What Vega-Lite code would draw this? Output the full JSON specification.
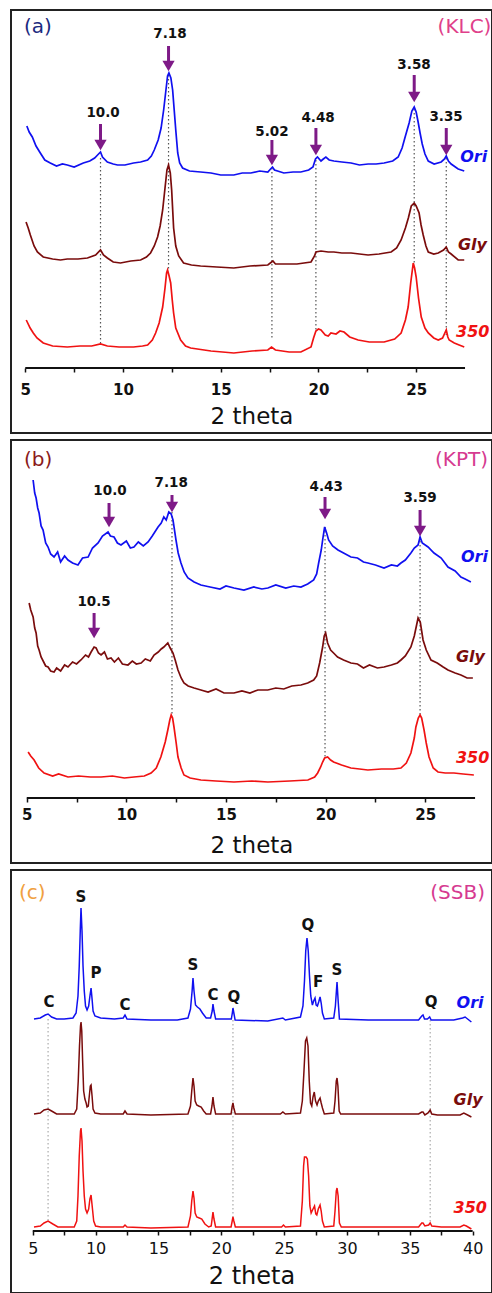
{
"$schema": "https://vega.github.io/schema/vega-lite/v6.json",
"padding": {"left": 10, "top": 9, "right": 1, "bottom": 0},
"spacing": 5,
"background": "white",
"config": {"view": {"stroke": "#222", "strokeWidth": 2}, "font": "DejaVu Sans"},
"datasets": {
"a": [
{"s":"Ori","t":5.08,"v":242},{"s":"Ori","t":5.2,"v":236},{"s":"Ori","t":5.36,"v":231},{"s":"Ori","t":5.55,"v":222},{"s":"Ori","t":5.77,"v":215},{"s":"Ori","t":6.0,"v":208},{"s":"Ori","t":6.28,"v":205},{"s":"Ori","t":6.6,"v":202},{"s":"Ori","t":6.9,"v":204},{"s":"Ori","t":7.15,"v":203},{"s":"Ori","t":7.5,"v":201},{"s":"Ori","t":7.97,"v":205},{"s":"Ori","t":8.3,"v":207},{"s":"Ori","t":8.55,"v":210},{"s":"Ori","t":8.7,"v":213},{"s":"Ori","t":8.85,"v":216},{"s":"Ori","t":8.95,"v":211},{"s":"Ori","t":9.2,"v":206},{"s":"Ori","t":9.5,"v":204},{"s":"Ori","t":9.72,"v":203},{"s":"Ori","t":10.1,"v":203},{"s":"Ori","t":10.54,"v":205},{"s":"Ori","t":10.9,"v":206},{"s":"Ori","t":11.26,"v":208},{"s":"Ori","t":11.45,"v":212},{"s":"Ori","t":11.6,"v":218},{"s":"Ori","t":11.8,"v":228},{"s":"Ori","t":11.95,"v":240},{"s":"Ori","t":12.08,"v":258},{"s":"Ori","t":12.18,"v":275},{"s":"Ori","t":12.28,"v":292},{"s":"Ori","t":12.35,"v":295},{"s":"Ori","t":12.45,"v":290},{"s":"Ori","t":12.54,"v":278},{"s":"Ori","t":12.62,"v":258},{"s":"Ori","t":12.7,"v":238},{"s":"Ori","t":12.8,"v":215},{"s":"Ori","t":12.9,"v":205},{"s":"Ori","t":13.05,"v":200},{"s":"Ori","t":13.4,"v":197},{"s":"Ori","t":13.97,"v":196},{"s":"Ori","t":14.5,"v":195},{"s":"Ori","t":15.0,"v":193},{"s":"Ori","t":15.67,"v":193},{"s":"Ori","t":16.1,"v":195},{"s":"Ori","t":16.54,"v":195},{"s":"Ori","t":17.0,"v":197},{"s":"Ori","t":17.41,"v":196},{"s":"Ori","t":17.55,"v":199},{"s":"Ori","t":17.65,"v":201},{"s":"Ori","t":17.75,"v":198},{"s":"Ori","t":18.23,"v":195},{"s":"Ori","t":18.7,"v":196},{"s":"Ori","t":19.1,"v":196},{"s":"Ori","t":19.5,"v":198},{"s":"Ori","t":19.72,"v":201},{"s":"Ori","t":19.85,"v":209},{"s":"Ori","t":19.95,"v":211},{"s":"Ori","t":20.13,"v":207},{"s":"Ori","t":20.25,"v":209},{"s":"Ori","t":20.38,"v":211},{"s":"Ori","t":20.55,"v":208},{"s":"Ori","t":20.79,"v":207},{"s":"Ori","t":21.2,"v":206},{"s":"Ori","t":21.67,"v":205},{"s":"Ori","t":22.1,"v":203},{"s":"Ori","t":22.54,"v":204},{"s":"Ori","t":22.95,"v":204},{"s":"Ori","t":23.36,"v":205},{"s":"Ori","t":23.8,"v":207},{"s":"Ori","t":24.08,"v":211},{"s":"Ori","t":24.28,"v":220},{"s":"Ori","t":24.45,"v":232},{"s":"Ori","t":24.64,"v":245},{"s":"Ori","t":24.78,"v":257},{"s":"Ori","t":24.9,"v":261},{"s":"Ori","t":25.0,"v":256},{"s":"Ori","t":25.1,"v":246},{"s":"Ori","t":25.2,"v":235},{"s":"Ori","t":25.31,"v":224},{"s":"Ori","t":25.45,"v":214},{"s":"Ori","t":25.62,"v":207},{"s":"Ori","t":25.92,"v":204},{"s":"Ori","t":26.28,"v":206},{"s":"Ori","t":26.45,"v":209},{"s":"Ori","t":26.54,"v":212},{"s":"Ori","t":26.65,"v":207},{"s":"Ori","t":26.79,"v":204},{"s":"Ori","t":27.15,"v":199},{"s":"Ori","t":27.46,"v":197},
{"s":"Gly","t":5.04,"v":146},{"s":"Gly","t":5.15,"v":140},{"s":"Gly","t":5.26,"v":133},{"s":"Gly","t":5.45,"v":122},{"s":"Gly","t":5.62,"v":116},{"s":"Gly","t":5.92,"v":111},{"s":"Gly","t":6.4,"v":109},{"s":"Gly","t":6.8,"v":108},{"s":"Gly","t":7.15,"v":109},{"s":"Gly","t":7.7,"v":109},{"s":"Gly","t":8.18,"v":110},{"s":"Gly","t":8.6,"v":113},{"s":"Gly","t":8.85,"v":118},{"s":"Gly","t":9.0,"v":113},{"s":"Gly","t":9.2,"v":110},{"s":"Gly","t":9.5,"v":106},{"s":"Gly","t":9.87,"v":105},{"s":"Gly","t":10.4,"v":107},{"s":"Gly","t":10.9,"v":108},{"s":"Gly","t":11.2,"v":111},{"s":"Gly","t":11.41,"v":115},{"s":"Gly","t":11.6,"v":122},{"s":"Gly","t":11.77,"v":131},{"s":"Gly","t":11.9,"v":142},{"s":"Gly","t":12.03,"v":158},{"s":"Gly","t":12.15,"v":180},{"s":"Gly","t":12.25,"v":198},{"s":"Gly","t":12.33,"v":203},{"s":"Gly","t":12.42,"v":195},{"s":"Gly","t":12.49,"v":178},{"s":"Gly","t":12.59,"v":140},{"s":"Gly","t":12.7,"v":122},{"s":"Gly","t":12.85,"v":112},{"s":"Gly","t":13.1,"v":105},{"s":"Gly","t":13.5,"v":103},{"s":"Gly","t":13.97,"v":102},{"s":"Gly","t":14.8,"v":101},{"s":"Gly","t":15.67,"v":100},{"s":"Gly","t":16.5,"v":102},{"s":"Gly","t":17.41,"v":103},{"s":"Gly","t":17.67,"v":107},{"s":"Gly","t":17.8,"v":104},{"s":"Gly","t":18.23,"v":104},{"s":"Gly","t":18.9,"v":104},{"s":"Gly","t":19.62,"v":106},{"s":"Gly","t":19.8,"v":112},{"s":"Gly","t":19.87,"v":116},{"s":"Gly","t":20.13,"v":117},{"s":"Gly","t":20.5,"v":116},{"s":"Gly","t":20.79,"v":116},{"s":"Gly","t":21.2,"v":115},{"s":"Gly","t":21.67,"v":115},{"s":"Gly","t":22.1,"v":114},{"s":"Gly","t":22.54,"v":113},{"s":"Gly","t":23.1,"v":114},{"s":"Gly","t":23.72,"v":116},{"s":"Gly","t":24.0,"v":120},{"s":"Gly","t":24.23,"v":128},{"s":"Gly","t":24.45,"v":140},{"s":"Gly","t":24.6,"v":150},{"s":"Gly","t":24.75,"v":162},{"s":"Gly","t":24.9,"v":165},{"s":"Gly","t":25.0,"v":162},{"s":"Gly","t":25.15,"v":155},{"s":"Gly","t":25.25,"v":143},{"s":"Gly","t":25.36,"v":133},{"s":"Gly","t":25.5,"v":122},{"s":"Gly","t":25.62,"v":116},{"s":"Gly","t":25.9,"v":114},{"s":"Gly","t":26.13,"v":115},{"s":"Gly","t":26.4,"v":118},{"s":"Gly","t":26.54,"v":121},{"s":"Gly","t":26.65,"v":116},{"s":"Gly","t":26.79,"v":114},{"s":"Gly","t":27.15,"v":108},{"s":"Gly","t":27.46,"v":108},
{"s":"350","t":5.05,"v":48},{"s":"350","t":5.1,"v":46},{"s":"350","t":5.25,"v":40},{"s":"350","t":5.41,"v":35},{"s":"350","t":5.6,"v":30},{"s":"350","t":5.92,"v":25},{"s":"350","t":6.4,"v":22},{"s":"350","t":7.15,"v":21},{"s":"350","t":7.8,"v":22},{"s":"350","t":8.4,"v":22},{"s":"350","t":8.85,"v":24},{"s":"350","t":9.2,"v":22},{"s":"350","t":9.8,"v":21},{"s":"350","t":10.54,"v":21},{"s":"350","t":11.0,"v":22},{"s":"350","t":11.26,"v":23},{"s":"350","t":11.5,"v":28},{"s":"350","t":11.67,"v":35},{"s":"350","t":11.85,"v":45},{"s":"350","t":12.03,"v":61},{"s":"350","t":12.15,"v":80},{"s":"350","t":12.23,"v":95},{"s":"350","t":12.28,"v":98},{"s":"350","t":12.36,"v":92},{"s":"350","t":12.44,"v":85},{"s":"350","t":12.52,"v":68},{"s":"350","t":12.59,"v":55},{"s":"350","t":12.7,"v":40},{"s":"350","t":12.95,"v":28},{"s":"350","t":13.2,"v":22},{"s":"350","t":13.46,"v":20},{"s":"350","t":14.5,"v":17},{"s":"350","t":15.67,"v":15},{"s":"350","t":16.6,"v":17},{"s":"350","t":17.41,"v":18},{"s":"350","t":17.6,"v":21},{"s":"350","t":17.8,"v":18},{"s":"350","t":18.5,"v":16},{"s":"350","t":19.1,"v":16},{"s":"350","t":19.62,"v":21},{"s":"350","t":19.75,"v":30},{"s":"350","t":19.87,"v":37},{"s":"350","t":20.0,"v":39},{"s":"350","t":20.13,"v":38},{"s":"350","t":20.35,"v":33},{"s":"350","t":20.5,"v":32},{"s":"350","t":20.64,"v":35},{"s":"350","t":20.9,"v":34},{"s":"350","t":21.1,"v":37},{"s":"350","t":21.31,"v":36},{"s":"350","t":21.6,"v":31},{"s":"350","t":22.03,"v":28},{"s":"350","t":22.6,"v":26},{"s":"350","t":23.36,"v":26},{"s":"350","t":23.9,"v":29},{"s":"350","t":24.23,"v":35},{"s":"350","t":24.45,"v":48},{"s":"350","t":24.59,"v":61},{"s":"350","t":24.72,"v":85},{"s":"350","t":24.85,"v":105},{"s":"350","t":24.92,"v":100},{"s":"350","t":25.0,"v":91},{"s":"350","t":25.12,"v":70},{"s":"350","t":25.26,"v":51},{"s":"350","t":25.45,"v":40},{"s":"350","t":25.62,"v":35},{"s":"350","t":25.9,"v":30},{"s":"350","t":26.13,"v":28},{"s":"350","t":26.35,"v":30},{"s":"350","t":26.54,"v":38},{"s":"350","t":26.62,"v":31},{"s":"350","t":26.69,"v":28},{"s":"350","t":26.95,"v":25},{"s":"350","t":27.2,"v":23},{"s":"350","t":27.46,"v":21}
],
"b": [
{"s":"Ori","t":5.32,"v":318},{"s":"Ori","t":5.4,"v":305},{"s":"Ori","t":5.47,"v":300},{"s":"Ori","t":5.55,"v":290},{"s":"Ori","t":5.62,"v":285},{"s":"Ori","t":5.72,"v":272},{"s":"Ori","t":5.82,"v":268},{"s":"Ori","t":5.95,"v":255},{"s":"Ori","t":6.07,"v":251},{"s":"Ori","t":6.2,"v":244},{"s":"Ori","t":6.37,"v":241},{"s":"Ori","t":6.55,"v":246},{"s":"Ori","t":6.7,"v":236},{"s":"Ori","t":6.9,"v":242},{"s":"Ori","t":7.07,"v":238},{"s":"Ori","t":7.3,"v":235},{"s":"Ori","t":7.57,"v":233},{"s":"Ori","t":7.8,"v":240},{"s":"Ori","t":8.08,"v":241},{"s":"Ori","t":8.3,"v":250},{"s":"Ori","t":8.58,"v":255},{"s":"Ori","t":8.8,"v":262},{"s":"Ori","t":9.08,"v":266},{"s":"Ori","t":9.2,"v":262},{"s":"Ori","t":9.38,"v":261},{"s":"Ori","t":9.55,"v":255},{"s":"Ori","t":9.73,"v":253},{"s":"Ori","t":10.0,"v":257},{"s":"Ori","t":10.2,"v":250},{"s":"Ori","t":10.38,"v":251},{"s":"Ori","t":10.6,"v":256},{"s":"Ori","t":10.85,"v":252},{"s":"Ori","t":11.09,"v":256},{"s":"Ori","t":11.3,"v":262},{"s":"Ori","t":11.59,"v":271},{"s":"Ori","t":11.75,"v":275},{"s":"Ori","t":11.88,"v":281},{"s":"Ori","t":12.0,"v":278},{"s":"Ori","t":12.13,"v":286},{"s":"Ori","t":12.25,"v":284},{"s":"Ori","t":12.34,"v":278},{"s":"Ori","t":12.49,"v":258},{"s":"Ori","t":12.6,"v":245},{"s":"Ori","t":12.74,"v":235},{"s":"Ori","t":12.9,"v":226},{"s":"Ori","t":13.09,"v":220},{"s":"Ori","t":13.4,"v":216},{"s":"Ori","t":13.74,"v":213},{"s":"Ori","t":14.2,"v":211},{"s":"Ori","t":14.7,"v":209},{"s":"Ori","t":15.0,"v":212},{"s":"Ori","t":15.4,"v":210},{"s":"Ori","t":15.9,"v":208},{"s":"Ori","t":16.4,"v":211},{"s":"Ori","t":16.8,"v":209},{"s":"Ori","t":17.1,"v":210},{"s":"Ori","t":17.5,"v":213},{"s":"Ori","t":18.0,"v":210},{"s":"Ori","t":18.4,"v":212},{"s":"Ori","t":18.76,"v":211},{"s":"Ori","t":19.1,"v":214},{"s":"Ori","t":19.4,"v":218},{"s":"Ori","t":19.55,"v":224},{"s":"Ori","t":19.65,"v":235},{"s":"Ori","t":19.78,"v":248},{"s":"Ori","t":19.85,"v":258},{"s":"Ori","t":19.95,"v":271},{"s":"Ori","t":20.05,"v":265},{"s":"Ori","t":20.15,"v":258},{"s":"Ori","t":20.35,"v":252},{"s":"Ori","t":20.62,"v":248},{"s":"Ori","t":20.9,"v":245},{"s":"Ori","t":21.27,"v":241},{"s":"Ori","t":21.6,"v":240},{"s":"Ori","t":21.9,"v":236},{"s":"Ori","t":22.12,"v":235},{"s":"Ori","t":22.5,"v":233},{"s":"Ori","t":22.93,"v":230},{"s":"Ori","t":23.3,"v":233},{"s":"Ori","t":23.6,"v":232},{"s":"Ori","t":23.78,"v":235},{"s":"Ori","t":24.0,"v":238},{"s":"Ori","t":24.28,"v":245},{"s":"Ori","t":24.45,"v":250},{"s":"Ori","t":24.64,"v":253},{"s":"Ori","t":24.74,"v":261},{"s":"Ori","t":24.85,"v":255},{"s":"Ori","t":25.14,"v":251},{"s":"Ori","t":25.44,"v":245},{"s":"Ori","t":25.8,"v":240},{"s":"Ori","t":26.14,"v":231},{"s":"Ori","t":26.5,"v":227},{"s":"Ori","t":26.79,"v":221},{"s":"Ori","t":27.0,"v":219},{"s":"Ori","t":27.29,"v":216},
{"s":"Gly","t":5.12,"v":195},{"s":"Gly","t":5.2,"v":188},{"s":"Gly","t":5.32,"v":181},{"s":"Gly","t":5.4,"v":170},{"s":"Gly","t":5.47,"v":165},{"s":"Gly","t":5.55,"v":152},{"s":"Gly","t":5.62,"v":148},{"s":"Gly","t":5.72,"v":141},{"s":"Gly","t":5.85,"v":136},{"s":"Gly","t":5.95,"v":132},{"s":"Gly","t":6.07,"v":131},{"s":"Gly","t":6.2,"v":127},{"s":"Gly","t":6.37,"v":126},{"s":"Gly","t":6.5,"v":130},{"s":"Gly","t":6.7,"v":127},{"s":"Gly","t":6.9,"v":133},{"s":"Gly","t":7.07,"v":131},{"s":"Gly","t":7.3,"v":136},{"s":"Gly","t":7.5,"v":134},{"s":"Gly","t":7.72,"v":138},{"s":"Gly","t":7.95,"v":143},{"s":"Gly","t":8.1,"v":141},{"s":"Gly","t":8.23,"v":146},{"s":"Gly","t":8.38,"v":151},{"s":"Gly","t":8.48,"v":150},{"s":"Gly","t":8.6,"v":145},{"s":"Gly","t":8.73,"v":143},{"s":"Gly","t":8.9,"v":146},{"s":"Gly","t":9.05,"v":139},{"s":"Gly","t":9.23,"v":140},{"s":"Gly","t":9.4,"v":136},{"s":"Gly","t":9.6,"v":140},{"s":"Gly","t":9.8,"v":134},{"s":"Gly","t":10.08,"v":133},{"s":"Gly","t":10.3,"v":137},{"s":"Gly","t":10.5,"v":134},{"s":"Gly","t":10.74,"v":135},{"s":"Gly","t":10.95,"v":139},{"s":"Gly","t":11.2,"v":137},{"s":"Gly","t":11.39,"v":143},{"s":"Gly","t":11.6,"v":146},{"s":"Gly","t":11.75,"v":149},{"s":"Gly","t":11.88,"v":151},{"s":"Gly","t":12.08,"v":155},{"s":"Gly","t":12.2,"v":150},{"s":"Gly","t":12.34,"v":145},{"s":"Gly","t":12.45,"v":138},{"s":"Gly","t":12.59,"v":128},{"s":"Gly","t":12.75,"v":120},{"s":"Gly","t":12.89,"v":115},{"s":"Gly","t":13.1,"v":112},{"s":"Gly","t":13.4,"v":110},{"s":"Gly","t":13.74,"v":108},{"s":"Gly","t":14.1,"v":106},{"s":"Gly","t":14.5,"v":109},{"s":"Gly","t":14.9,"v":105},{"s":"Gly","t":15.4,"v":105},{"s":"Gly","t":15.8,"v":107},{"s":"Gly","t":16.2,"v":105},{"s":"Gly","t":16.6,"v":108},{"s":"Gly","t":17.1,"v":108},{"s":"Gly","t":17.5,"v":110},{"s":"Gly","t":17.9,"v":109},{"s":"Gly","t":18.3,"v":112},{"s":"Gly","t":18.76,"v":113},{"s":"Gly","t":19.1,"v":115},{"s":"Gly","t":19.4,"v":118},{"s":"Gly","t":19.55,"v":122},{"s":"Gly","t":19.7,"v":135},{"s":"Gly","t":19.85,"v":151},{"s":"Gly","t":19.93,"v":162},{"s":"Gly","t":20.0,"v":165},{"s":"Gly","t":20.1,"v":155},{"s":"Gly","t":20.25,"v":148},{"s":"Gly","t":20.4,"v":145},{"s":"Gly","t":20.6,"v":141},{"s":"Gly","t":20.9,"v":138},{"s":"Gly","t":21.27,"v":135},{"s":"Gly","t":21.6,"v":134},{"s":"Gly","t":21.9,"v":130},{"s":"Gly","t":22.2,"v":133},{"s":"Gly","t":22.6,"v":130},{"s":"Gly","t":22.93,"v":131},{"s":"Gly","t":23.3,"v":133},{"s":"Gly","t":23.6,"v":135},{"s":"Gly","t":23.78,"v":138},{"s":"Gly","t":24.0,"v":142},{"s":"Gly","t":24.28,"v":151},{"s":"Gly","t":24.45,"v":162},{"s":"Gly","t":24.64,"v":180},{"s":"Gly","t":24.75,"v":176},{"s":"Gly","t":24.89,"v":158},{"s":"Gly","t":25.05,"v":148},{"s":"Gly","t":25.29,"v":138},{"s":"Gly","t":25.6,"v":135},{"s":"Gly","t":25.9,"v":131},{"s":"Gly","t":26.14,"v":128},{"s":"Gly","t":26.5,"v":125},{"s":"Gly","t":26.79,"v":123},{"s":"Gly","t":27.1,"v":120},{"s":"Gly","t":27.39,"v":120},
{"s":"350","t":5.07,"v":46},{"s":"350","t":5.2,"v":42},{"s":"350","t":5.37,"v":38},{"s":"350","t":5.6,"v":30},{"s":"350","t":5.87,"v":25},{"s":"350","t":6.3,"v":22},{"s":"350","t":6.6,"v":24},{"s":"350","t":7.07,"v":21},{"s":"350","t":7.6,"v":22},{"s":"350","t":8.2,"v":21},{"s":"350","t":8.73,"v":21},{"s":"350","t":9.3,"v":22},{"s":"350","t":9.9,"v":20},{"s":"350","t":10.38,"v":21},{"s":"350","t":10.9,"v":22},{"s":"350","t":11.24,"v":25},{"s":"350","t":11.5,"v":30},{"s":"350","t":11.73,"v":41},{"s":"350","t":11.95,"v":56},{"s":"350","t":12.08,"v":68},{"s":"350","t":12.18,"v":78},{"s":"350","t":12.25,"v":83},{"s":"350","t":12.32,"v":80},{"s":"350","t":12.39,"v":71},{"s":"350","t":12.5,"v":55},{"s":"350","t":12.59,"v":41},{"s":"350","t":12.75,"v":30},{"s":"350","t":12.89,"v":23},{"s":"350","t":13.2,"v":20},{"s":"350","t":13.74,"v":18},{"s":"350","t":14.5,"v":17},{"s":"350","t":15.4,"v":16},{"s":"350","t":16.3,"v":17},{"s":"350","t":17.1,"v":16},{"s":"350","t":18.2,"v":17},{"s":"350","t":19.11,"v":18},{"s":"350","t":19.45,"v":21},{"s":"350","t":19.6,"v":25},{"s":"350","t":19.75,"v":31},{"s":"350","t":19.85,"v":36},{"s":"350","t":19.95,"v":40},{"s":"350","t":20.1,"v":41},{"s":"350","t":20.25,"v":38},{"s":"350","t":20.4,"v":36},{"s":"350","t":20.8,"v":33},{"s":"350","t":21.27,"v":30},{"s":"350","t":21.7,"v":29},{"s":"350","t":22.12,"v":28},{"s":"350","t":22.8,"v":29},{"s":"350","t":23.4,"v":29},{"s":"350","t":23.78,"v":30},{"s":"350","t":24.05,"v":35},{"s":"350","t":24.28,"v":45},{"s":"350","t":24.45,"v":60},{"s":"350","t":24.53,"v":71},{"s":"350","t":24.65,"v":80},{"s":"350","t":24.74,"v":83},{"s":"350","t":24.82,"v":80},{"s":"350","t":24.94,"v":68},{"s":"350","t":25.05,"v":55},{"s":"350","t":25.19,"v":41},{"s":"350","t":25.4,"v":30},{"s":"350","t":25.64,"v":26},{"s":"350","t":26.0,"v":25},{"s":"350","t":26.44,"v":25},{"s":"350","t":26.9,"v":24},{"s":"350","t":27.44,"v":23}
],
"c": [
{"s":"Ori","t":5.1,"v":212},{"s":"Ori","t":5.6,"v":213},{"s":"Ori","t":6.0,"v":216},{"s":"Ori","t":6.22,"v":217},{"s":"Ori","t":6.5,"v":214},{"s":"Ori","t":6.9,"v":212},{"s":"Ori","t":7.5,"v":212},{"s":"Ori","t":8.2,"v":213},{"s":"Ori","t":8.45,"v":218},{"s":"Ori","t":8.6,"v":235},{"s":"Ori","t":8.7,"v":265},{"s":"Ori","t":8.78,"v":300},{"s":"Ori","t":8.84,"v":323},{"s":"Ori","t":8.92,"v":300},{"s":"Ori","t":9.0,"v":265},{"s":"Ori","t":9.1,"v":240},{"s":"Ori","t":9.2,"v":225},{"s":"Ori","t":9.32,"v":221},{"s":"Ori","t":9.45,"v":225},{"s":"Ori","t":9.55,"v":235},{"s":"Ori","t":9.64,"v":243},{"s":"Ori","t":9.72,"v":232},{"s":"Ori","t":9.8,"v":220},{"s":"Ori","t":9.95,"v":215},{"s":"Ori","t":10.4,"v":213},{"s":"Ori","t":11.5,"v":212},{"s":"Ori","t":12.2,"v":213},{"s":"Ori","t":12.34,"v":216},{"s":"Ori","t":12.5,"v":212},{"s":"Ori","t":14.4,"v":211},{"s":"Ori","t":16.5,"v":211},{"s":"Ori","t":17.35,"v":213},{"s":"Ori","t":17.55,"v":222},{"s":"Ori","t":17.68,"v":240},{"s":"Ori","t":17.75,"v":253},{"s":"Ori","t":17.83,"v":240},{"s":"Ori","t":17.95,"v":226},{"s":"Ori","t":18.1,"v":224},{"s":"Ori","t":18.3,"v":222},{"s":"Ori","t":18.5,"v":218},{"s":"Ori","t":18.8,"v":213},{"s":"Ori","t":19.15,"v":213},{"s":"Ori","t":19.28,"v":220},{"s":"Ori","t":19.34,"v":227},{"s":"Ori","t":19.42,"v":220},{"s":"Ori","t":19.55,"v":212},{"s":"Ori","t":20.8,"v":212},{"s":"Ori","t":20.88,"v":218},{"s":"Ori","t":20.93,"v":223},{"s":"Ori","t":21.0,"v":218},{"s":"Ori","t":21.1,"v":211},{"s":"Ori","t":23.7,"v":210},{"s":"Ori","t":24.9,"v":213},{"s":"Ori","t":25.1,"v":211},{"s":"Ori","t":26.3,"v":214},{"s":"Ori","t":26.5,"v":225},{"s":"Ori","t":26.62,"v":250},{"s":"Ori","t":26.72,"v":280},{"s":"Ori","t":26.82,"v":293},{"s":"Ori","t":26.92,"v":280},{"s":"Ori","t":27.02,"v":255},{"s":"Ori","t":27.12,"v":235},{"s":"Ori","t":27.25,"v":226},{"s":"Ori","t":27.35,"v":230},{"s":"Ori","t":27.46,"v":233},{"s":"Ori","t":27.55,"v":226},{"s":"Ori","t":27.65,"v":225},{"s":"Ori","t":27.75,"v":229},{"s":"Ori","t":27.86,"v":234},{"s":"Ori","t":27.95,"v":228},{"s":"Ori","t":28.05,"v":218},{"s":"Ori","t":28.2,"v":212},{"s":"Ori","t":28.95,"v":213},{"s":"Ori","t":29.08,"v":225},{"s":"Ori","t":29.21,"v":249},{"s":"Ori","t":29.3,"v":230},{"s":"Ori","t":29.4,"v":212},{"s":"Ori","t":31.7,"v":211},{"s":"Ori","t":33.5,"v":211},{"s":"Ori","t":35.7,"v":211},{"s":"Ori","t":35.95,"v":215},{"s":"Ori","t":36.05,"v":216},{"s":"Ori","t":36.17,"v":212},{"s":"Ori","t":36.4,"v":212},{"s":"Ori","t":36.58,"v":214},{"s":"Ori","t":36.7,"v":211},{"s":"Ori","t":37.0,"v":211},{"s":"Ori","t":38.5,"v":211},{"s":"Ori","t":39.2,"v":213},{"s":"Ori","t":39.4,"v":214},{"s":"Ori","t":39.9,"v":209},
{"s":"Gly","t":5.1,"v":117},{"s":"Gly","t":5.6,"v":118},{"s":"Gly","t":5.9,"v":121},{"s":"Gly","t":6.22,"v":122},{"s":"Gly","t":6.5,"v":120},{"s":"Gly","t":6.9,"v":117},{"s":"Gly","t":8.3,"v":117},{"s":"Gly","t":8.5,"v":122},{"s":"Gly","t":8.62,"v":150},{"s":"Gly","t":8.72,"v":185},{"s":"Gly","t":8.8,"v":205},{"s":"Gly","t":8.84,"v":209},{"s":"Gly","t":8.9,"v":200},{"s":"Gly","t":8.97,"v":170},{"s":"Gly","t":9.05,"v":140},{"s":"Gly","t":9.15,"v":132},{"s":"Gly","t":9.25,"v":128},{"s":"Gly","t":9.32,"v":124},{"s":"Gly","t":9.42,"v":125},{"s":"Gly","t":9.5,"v":135},{"s":"Gly","t":9.58,"v":145},{"s":"Gly","t":9.64,"v":146},{"s":"Gly","t":9.72,"v":135},{"s":"Gly","t":9.8,"v":122},{"s":"Gly","t":9.95,"v":118},{"s":"Gly","t":10.4,"v":117},{"s":"Gly","t":12.2,"v":117},{"s":"Gly","t":12.34,"v":120},{"s":"Gly","t":12.5,"v":117},{"s":"Gly","t":14.4,"v":116},{"s":"Gly","t":17.35,"v":117},{"s":"Gly","t":17.55,"v":125},{"s":"Gly","t":17.65,"v":140},{"s":"Gly","t":17.75,"v":153},{"s":"Gly","t":17.83,"v":145},{"s":"Gly","t":17.92,"v":130},{"s":"Gly","t":18.05,"v":126},{"s":"Gly","t":18.2,"v":125},{"s":"Gly","t":18.4,"v":124},{"s":"Gly","t":18.6,"v":120},{"s":"Gly","t":18.8,"v":117},{"s":"Gly","t":19.15,"v":117},{"s":"Gly","t":19.26,"v":125},{"s":"Gly","t":19.34,"v":134},{"s":"Gly","t":19.42,"v":125},{"s":"Gly","t":19.55,"v":117},{"s":"Gly","t":20.78,"v":117},{"s":"Gly","t":20.86,"v":124},{"s":"Gly","t":20.93,"v":128},{"s":"Gly","t":21.0,"v":123},{"s":"Gly","t":21.12,"v":117},{"s":"Gly","t":24.7,"v":117},{"s":"Gly","t":24.9,"v":119},{"s":"Gly","t":25.1,"v":117},{"s":"Gly","t":26.3,"v":118},{"s":"Gly","t":26.45,"v":130},{"s":"Gly","t":26.58,"v":160},{"s":"Gly","t":26.7,"v":190},{"s":"Gly","t":26.8,"v":193},{"s":"Gly","t":26.9,"v":185},{"s":"Gly","t":27.0,"v":150},{"s":"Gly","t":27.1,"v":128},{"s":"Gly","t":27.2,"v":125},{"s":"Gly","t":27.3,"v":134},{"s":"Gly","t":27.4,"v":139},{"s":"Gly","t":27.5,"v":130},{"s":"Gly","t":27.62,"v":126},{"s":"Gly","t":27.72,"v":130},{"s":"Gly","t":27.86,"v":133},{"s":"Gly","t":27.95,"v":128},{"s":"Gly","t":28.05,"v":123},{"s":"Gly","t":28.2,"v":117},{"s":"Gly","t":28.95,"v":118},{"s":"Gly","t":29.05,"v":130},{"s":"Gly","t":29.15,"v":150},{"s":"Gly","t":29.21,"v":153},{"s":"Gly","t":29.28,"v":145},{"s":"Gly","t":29.38,"v":120},{"s":"Gly","t":29.5,"v":117},{"s":"Gly","t":31.7,"v":117},{"s":"Gly","t":35.7,"v":117},{"s":"Gly","t":35.95,"v":119},{"s":"Gly","t":36.05,"v":119},{"s":"Gly","t":36.2,"v":116},{"s":"Gly","t":36.45,"v":118},{"s":"Gly","t":36.62,"v":121},{"s":"Gly","t":36.75,"v":117},{"s":"Gly","t":37.2,"v":116},{"s":"Gly","t":39.0,"v":116},{"s":"Gly","t":39.3,"v":118},{"s":"Gly","t":39.6,"v":116},{"s":"Gly","t":39.9,"v":114},
{"s":"350","t":5.1,"v":4},{"s":"350","t":5.6,"v":5},{"s":"350","t":5.9,"v":8},{"s":"350","t":6.22,"v":10},{"s":"350","t":6.6,"v":7},{"s":"350","t":7.0,"v":4},{"s":"350","t":8.3,"v":4},{"s":"350","t":8.5,"v":10},{"s":"350","t":8.6,"v":35},{"s":"350","t":8.7,"v":75},{"s":"350","t":8.8,"v":100},{"s":"350","t":8.84,"v":103},{"s":"350","t":8.92,"v":90},{"s":"350","t":9.0,"v":60},{"s":"350","t":9.1,"v":35},{"s":"350","t":9.2,"v":22},{"s":"350","t":9.32,"v":18},{"s":"350","t":9.45,"v":22},{"s":"350","t":9.55,"v":32},{"s":"350","t":9.64,"v":36},{"s":"350","t":9.72,"v":26},{"s":"350","t":9.85,"v":10},{"s":"350","t":10.0,"v":5},{"s":"350","t":10.4,"v":4},{"s":"350","t":12.2,"v":4},{"s":"350","t":12.34,"v":6},{"s":"350","t":12.5,"v":4},{"s":"350","t":14.4,"v":3},{"s":"350","t":17.35,"v":4},{"s":"350","t":17.55,"v":15},{"s":"350","t":17.65,"v":30},{"s":"350","t":17.75,"v":40},{"s":"350","t":17.83,"v":33},{"s":"350","t":17.92,"v":18},{"s":"350","t":18.05,"v":14},{"s":"350","t":18.25,"v":13},{"s":"350","t":18.45,"v":12},{"s":"350","t":18.7,"v":7},{"s":"350","t":19.0,"v":4},{"s":"350","t":19.2,"v":5},{"s":"350","t":19.27,"v":12},{"s":"350","t":19.34,"v":19},{"s":"350","t":19.42,"v":12},{"s":"350","t":19.55,"v":4},{"s":"350","t":20.78,"v":4},{"s":"350","t":20.87,"v":10},{"s":"350","t":20.93,"v":14},{"s":"350","t":21.0,"v":10},{"s":"350","t":21.12,"v":4},{"s":"350","t":24.8,"v":4},{"s":"350","t":24.95,"v":6},{"s":"350","t":25.1,"v":4},{"s":"350","t":26.3,"v":5},{"s":"350","t":26.45,"v":30},{"s":"350","t":26.55,"v":65},{"s":"350","t":26.62,"v":74},{"s":"350","t":26.75,"v":74},{"s":"350","t":26.85,"v":72},{"s":"350","t":26.95,"v":55},{"s":"350","t":27.05,"v":25},{"s":"350","t":27.15,"v":18},{"s":"350","t":27.3,"v":22},{"s":"350","t":27.42,"v":25},{"s":"350","t":27.52,"v":17},{"s":"350","t":27.6,"v":16},{"s":"350","t":27.72,"v":22},{"s":"350","t":27.86,"v":26},{"s":"350","t":27.95,"v":20},{"s":"350","t":28.05,"v":10},{"s":"350","t":28.2,"v":4},{"s":"350","t":28.95,"v":5},{"s":"350","t":29.05,"v":20},{"s":"350","t":29.15,"v":40},{"s":"350","t":29.21,"v":43},{"s":"350","t":29.3,"v":35},{"s":"350","t":29.4,"v":8},{"s":"350","t":29.55,"v":4},{"s":"350","t":31.7,"v":4},{"s":"350","t":35.7,"v":4},{"s":"350","t":35.95,"v":8},{"s":"350","t":36.05,"v":8},{"s":"350","t":36.2,"v":5},{"s":"350","t":36.5,"v":6},{"s":"350","t":36.62,"v":8},{"s":"350","t":36.75,"v":5},{"s":"350","t":37.5,"v":4},{"s":"350","t":39.0,"v":4},{"s":"350","t":39.3,"v":6},{"s":"350","t":39.5,"v":5},{"s":"350","t":39.9,"v":2}
],
"ann": [
{"p":"a","k":"d","t":8.98,"v":255,"txt":"10.0"},{"p":"a","k":"d","t":12.4,"v":334,"txt":"7.18"},{"p":"a","k":"d","t":17.62,"v":236,"txt":"5.02"},{"p":"a","k":"d","t":19.98,"v":250,"txt":"4.48"},{"p":"a","k":"d","t":24.89,"v":303,"txt":"3.58"},{"p":"a","k":"d","t":26.53,"v":251,"txt":"3.35"},
{"p":"b","k":"d","t":9.18,"v":307,"txt":"10.0"},{"p":"b","k":"d","t":12.25,"v":315,"txt":"7.18"},{"p":"b","k":"d","t":20.03,"v":311,"txt":"4.43"},{"p":"b","k":"d","t":24.74,"v":300,"txt":"3.59"},{"p":"b","k":"d","t":8.38,"v":196,"txt":"10.5"},
{"p":"c","k":"ph","t":6.3,"v":229,"txt":"C"},{"p":"c","k":"ph","t":8.84,"v":334,"txt":"S"},{"p":"c","k":"ph","t":10.04,"v":258,"txt":"P"},{"p":"c","k":"ph","t":12.34,"v":226,"txt":"C"},{"p":"c","k":"ph","t":17.75,"v":266,"txt":"S"},{"p":"c","k":"ph","t":19.34,"v":236,"txt":"C"},{"p":"c","k":"ph","t":21.01,"v":234,"txt":"Q"},{"p":"c","k":"ph","t":26.9,"v":306,"txt":"Q"},{"p":"c","k":"ph","t":27.7,"v":249,"txt":"F"},{"p":"c","k":"ph","t":29.21,"v":261,"txt":"S"},{"p":"c","k":"ph","t":36.69,"v":229,"txt":"Q"},
{"p":"a","k":"trace","s":"Ori","t":27.25,"v":211,"txt":"Ori"},{"p":"a","k":"trace","s":"Gly","t":27.14,"v":123,"txt":"Gly"},{"p":"a","k":"trace","s":"350","t":27.04,"v":36,"txt":"350"},
{"p":"b","k":"trace","s":"Ori","t":26.79,"v":241,"txt":"Ori"},{"p":"b","k":"trace","s":"Gly","t":26.54,"v":141,"txt":"Gly"},{"p":"b","k":"trace","s":"350","t":26.54,"v":40,"txt":"350"},
{"p":"c","k":"trace","s":"Ori","t":38.72,"v":228,"txt":"Ori"},{"p":"c","k":"trace","s":"Gly","t":38.48,"v":131,"txt":"Gly"},{"p":"c","k":"trace","s":"350","t":38.48,"v":23,"txt":"350"},
{"p":"a","k":"pl","t":4.93,"v":341,"txt":"(a)"},{"p":"a","k":"pr","t":28.85,"v":341,"txt":"(KLC)"},
{"p":"b","k":"pl","t":4.86,"v":338,"txt":"(b)"},{"p":"b","k":"pr","t":28.15,"v":338,"txt":"(KPT)"},
{"p":"c","k":"pl","t":3.91,"v":338,"txt":"(c)"},{"p":"c","k":"pr","t":40.98,"v":338,"txt":"(SSB)"}
],
"arrows": [
{"p":"a","t":8.85,"v":244,"v2":218},{"p":"a","t":12.33,"v":322,"v2":297},{"p":"a","t":17.62,"v":228,"v2":203},{"p":"a","t":19.87,"v":240,"v2":213},{"p":"a","t":24.9,"v":293,"v2":266},{"p":"a","t":26.54,"v":240,"v2":213},
{"p":"b","t":9.13,"v":295,"v2":271},{"p":"b","t":12.29,"v":303,"v2":286},{"p":"b","t":19.97,"v":301,"v2":279},{"p":"b","t":24.74,"v":288,"v2":262},{"p":"b","t":8.38,"v":185,"v2":160}
],
"dots": [
{"p":"a","t":8.85,"v":210,"v2":25},{"p":"a","t":12.33,"v":293,"v2":98},{"p":"a","t":17.62,"v":200,"v2":28},{"p":"a","t":19.87,"v":208,"v2":38},{"p":"a","t":24.9,"v":259,"v2":105},{"p":"a","t":26.54,"v":210,"v2":33},
{"p":"b","t":12.29,"v":286,"v2":83},{"p":"b","t":19.97,"v":271,"v2":41},{"p":"b","t":24.74,"v":261,"v2":83},
{"p":"c","t":6.22,"v":212,"v2":10},{"p":"c","t":20.93,"v":211,"v2":14},{"p":"c","t":36.62,"v":211,"v2":9}
],
"axisline": [
{"p":"a","t":5,"t2":27.5,"v":0},{"p":"b","t":5,"t2":27.5,"v":0},{"p":"c","t":5,"t2":40,"v":0}
]
},
"vconcat": [
{
"width": 481, "height": 423,
"encoding": {
"x": {"field": "t", "type": "quantitative", "scale": {"domain": [4.27, 28.88], "nice": false, "zero": false},
"axis": {"values": [5,7.5,10,12.5,15,17.5,20,22.5,25], "labelExpr": "datum.value % 5 === 0 ? datum.label : ''", "offset": -65, "domain": false, "grid": false, "ticks": true, "tickColor": "#111", "tickWidth": 1.5, "tickSize": 4, "labelFont": "DejaVu Sans", "labelFontWeight": "bold", "labelFontSize": 15, "labelColor": "#111", "labelPadding": 10, "labelFlush": false, "labelOverlap": false, "title": "2 theta", "titleFont": "DejaVu Sans", "titleFontWeight": "normal", "titleFontSize": 23, "titleColor": "#111", "titlePadding": 8}},
"y": {"field": "v", "type": "quantitative", "scale": {"domain": [-65, 358], "nice": false, "zero": false}, "axis": null}
},
"layer": [
{"data": {"name": "dots"}, "transform": [{"filter": "datum.p == 'a'"}], "mark": {"type": "rule", "color": "#555", "strokeWidth": 1.2, "strokeDash": [1.5, 2.5]}, "encoding": {"y2": {"field": "v2"}}},
{"data": {"name": "a"}, "mark": {"type": "line", "strokeWidth": 1.7}, "encoding": {"color": {"field": "s", "type": "nominal", "scale": {"domain": ["Ori","Gly","350"], "range": ["#1010f0","#7a0c0c","#f01212"]}, "legend": null}}},
{"data": {"name": "axisline"}, "transform": [{"filter": "datum.p == 'a'"}], "mark": {"type": "rule", "color": "#111", "strokeWidth": 2}, "encoding": {"x2": {"field": "t2"}}},
{"data": {"name": "arrows"}, "transform": [{"filter": "datum.p == 'a'"}], "mark": {"type": "rule", "color": "#7e1a87", "strokeWidth": 3, "y2Offset": -9}, "encoding": {"y2": {"field": "v2"}}},
{"data": {"name": "arrows"}, "transform": [{"filter": "datum.p == 'a'"}], "mark": {"type": "point", "shape": "triangle-down", "filled": true, "size": 150, "color": "#7e1a87", "opacity": 1, "yOffset": -5}, "encoding": {"y": {"field": "v2", "type": "quantitative"}}},
{"data": {"name": "ann"}, "transform": [{"filter": "datum.p == 'a' && datum.k == 'd'"}], "mark": {"type": "text", "font": "DejaVu Sans", "fontWeight": "bold", "fontSize": 13.5, "color": "#111", "baseline": "middle", "align": "center"}, "encoding": {"text": {"field": "txt"}}},
{"data": {"name": "ann"}, "transform": [{"filter": "datum.p == 'a' && datum.k == 'trace'"}], "mark": {"type": "text", "font": "DejaVu Sans", "fontWeight": "bold", "fontStyle": "italic", "fontSize": 16, "baseline": "middle", "align": "left"}, "encoding": {"text": {"field": "txt"}, "color": {"field": "s", "type": "nominal", "legend": null}}},
{"data": {"name": "ann"}, "transform": [{"filter": "datum.p == 'a' && datum.k == 'pl'"}], "mark": {"type": "text", "font": "DejaVu Sans", "fontSize": 20, "color": "#1c2a80", "baseline": "middle", "align": "left"}, "encoding": {"text": {"field": "txt"}}},
{"data": {"name": "ann"}, "transform": [{"filter": "datum.p == 'a' && datum.k == 'pr'"}], "mark": {"type": "text", "font": "DejaVu Sans", "fontSize": 20, "color": "#e0408a", "baseline": "middle", "align": "right"}, "encoding": {"text": {"field": "txt"}}}
]
},
{
"width": 481, "height": 423,
"encoding": {
"x": {"field": "t", "type": "quantitative", "scale": {"domain": [4.21, 28.35], "nice": false, "zero": false},
"axis": {"values": [5,7.5,10,12.5,15,17.5,20,22.5,25], "labelExpr": "datum.value % 5 === 0 ? datum.label : ''", "offset": -65, "domain": false, "grid": false, "ticks": true, "tickColor": "#111", "tickWidth": 1.5, "tickSize": 4, "labelFont": "DejaVu Sans", "labelFontWeight": "bold", "labelFontSize": 15, "labelColor": "#111", "labelPadding": 5, "labelFlush": false, "labelOverlap": false, "title": "2 theta", "titleFont": "DejaVu Sans", "titleFontWeight": "normal", "titleFontSize": 23, "titleColor": "#111", "titlePadding": 12}},
"y": {"field": "v", "type": "quantitative", "scale": {"domain": [-65, 358], "nice": false, "zero": false}, "axis": null}
},
"layer": [
{"data": {"name": "dots"}, "transform": [{"filter": "datum.p == 'b'"}], "mark": {"type": "rule", "color": "#555", "strokeWidth": 1.2, "strokeDash": [1.5, 2.5]}, "encoding": {"y2": {"field": "v2"}}},
{"data": {"name": "b"}, "mark": {"type": "line", "strokeWidth": 1.7}, "encoding": {"color": {"field": "s", "type": "nominal", "scale": {"domain": ["Ori","Gly","350"], "range": ["#1010f0","#7a0c0c","#f01212"]}, "legend": null}}},
{"data": {"name": "axisline"}, "transform": [{"filter": "datum.p == 'b'"}], "mark": {"type": "rule", "color": "#111", "strokeWidth": 2}, "encoding": {"x2": {"field": "t2"}}},
{"data": {"name": "arrows"}, "transform": [{"filter": "datum.p == 'b'"}], "mark": {"type": "rule", "color": "#7e1a87", "strokeWidth": 3, "y2Offset": -9}, "encoding": {"y2": {"field": "v2"}}},
{"data": {"name": "arrows"}, "transform": [{"filter": "datum.p == 'b'"}], "mark": {"type": "point", "shape": "triangle-down", "filled": true, "size": 150, "color": "#7e1a87", "opacity": 1, "yOffset": -5}, "encoding": {"y": {"field": "v2", "type": "quantitative"}}},
{"data": {"name": "ann"}, "transform": [{"filter": "datum.p == 'b' && datum.k == 'd'"}], "mark": {"type": "text", "font": "DejaVu Sans", "fontWeight": "bold", "fontSize": 13.5, "color": "#111", "baseline": "middle", "align": "center"}, "encoding": {"text": {"field": "txt"}}},
{"data": {"name": "ann"}, "transform": [{"filter": "datum.p == 'b' && datum.k == 'trace'"}], "mark": {"type": "text", "font": "DejaVu Sans", "fontWeight": "bold", "fontStyle": "italic", "fontSize": 16, "baseline": "middle", "align": "left"}, "encoding": {"text": {"field": "txt"}, "color": {"field": "s", "type": "nominal", "legend": null}}},
{"data": {"name": "ann"}, "transform": [{"filter": "datum.p == 'b' && datum.k == 'pl'"}], "mark": {"type": "text", "font": "DejaVu Sans", "fontSize": 20, "color": "#8b1a1a", "baseline": "middle", "align": "left"}, "encoding": {"text": {"field": "txt"}}},
{"data": {"name": "ann"}, "transform": [{"filter": "datum.p == 'b' && datum.k == 'pr'"}], "mark": {"type": "text", "font": "DejaVu Sans", "fontSize": 20, "color": "#d63a90", "baseline": "middle", "align": "right"}, "encoding": {"text": {"field": "txt"}}}
]
},
{
"width": 481, "height": 423,
"encoding": {
"x": {"field": "t", "type": "quantitative", "scale": {"domain": [3.27, 41.54], "nice": false, "zero": false},
"axis": {"values": [5,7.5,10,12.5,15,17.5,20,22.5,25,27.5,30,32.5,35,37.5,40], "labelExpr": "datum.value % 5 === 0 ? datum.label : ''", "offset": -62, "domain": false, "grid": false, "ticks": true, "tickColor": "#111", "tickWidth": 1.5, "tickSize": 4, "labelFont": "DejaVu Sans", "labelFontWeight": "normal", "labelFontSize": 16, "labelColor": "#111", "labelPadding": 5, "labelFlush": false, "labelOverlap": false, "title": "2 theta", "titleFont": "DejaVu Sans", "titleFontWeight": "normal", "titleFontSize": 24, "titleColor": "#111", "titlePadding": 8}},
"y": {"field": "v", "type": "quantitative", "scale": {"domain": [-62, 361], "nice": false, "zero": false}, "axis": null}
},
"layer": [
{"data": {"name": "dots"}, "transform": [{"filter": "datum.p == 'c'"}], "mark": {"type": "rule", "color": "#999", "strokeWidth": 1, "strokeDash": [1.5, 2.5]}, "encoding": {"y2": {"field": "v2"}}},
{"data": {"name": "c"}, "mark": {"type": "line", "strokeWidth": 1.5}, "encoding": {"color": {"field": "s", "type": "nominal", "scale": {"domain": ["Ori","Gly","350"], "range": ["#1010f0","#7a0c0c","#f01212"]}, "legend": null}}},
{"data": {"name": "axisline"}, "transform": [{"filter": "datum.p == 'c'"}], "mark": {"type": "rule", "color": "#111", "strokeWidth": 2}, "encoding": {"x2": {"field": "t2"}}},
{"data": {"name": "ann"}, "transform": [{"filter": "datum.p == 'c' && datum.k == 'ph'"}], "mark": {"type": "text", "font": "DejaVu Sans", "fontWeight": "bold", "fontSize": 15, "color": "#111", "baseline": "middle", "align": "center"}, "encoding": {"text": {"field": "txt"}}},
{"data": {"name": "ann"}, "transform": [{"filter": "datum.p == 'c' && datum.k == 'trace'"}], "mark": {"type": "text", "font": "DejaVu Sans", "fontWeight": "bold", "fontStyle": "italic", "fontSize": 16, "baseline": "middle", "align": "left"}, "encoding": {"text": {"field": "txt"}, "color": {"field": "s", "type": "nominal", "legend": null}}},
{"data": {"name": "ann"}, "transform": [{"filter": "datum.p == 'c' && datum.k == 'pl'"}], "mark": {"type": "text", "font": "DejaVu Sans", "fontSize": 20, "color": "#f0a040", "baseline": "middle", "align": "left"}, "encoding": {"text": {"field": "txt"}}},
{"data": {"name": "ann"}, "transform": [{"filter": "datum.p == 'c' && datum.k == 'pr'"}], "mark": {"type": "text", "font": "DejaVu Sans", "fontSize": 20, "color": "#d63a90", "baseline": "middle", "align": "right"}, "encoding": {"text": {"field": "txt"}}}
]
}
]
}
